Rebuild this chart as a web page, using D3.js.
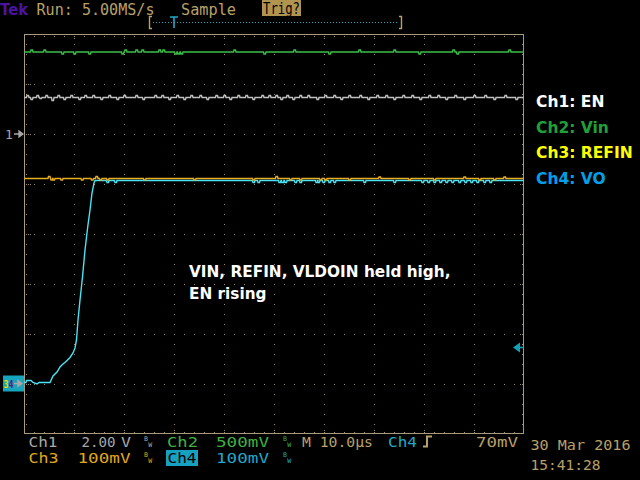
<!DOCTYPE html>
<html><head><meta charset="utf-8">
<script src="https://cdn.jsdelivr.net/npm/d3@7"></script>
<style>html,body{margin:0;padding:0;background:#000;overflow:hidden}</style>
</head><body><svg id="c" width="640" height="480" style="display:block;background:#000"></svg>
<script>
// ---------------- data (time in µs, vertical position in screen divisions) ----------------
const timeDomain = [-30, 70];          // 10.0 µs/div, trigger at t = 0
const divDomain = [-4, 4];             // 8 vertical divisions
const legendLabels = ["Ch1: EN", "Ch2: Vin", "Ch3: REFIN", "Ch4: VO"];
const annotationLines = ["VIN, REFIN, VLDOIN held high,", "EN rising"];
const ch1Ground = 2.0;                 // Ch1 marker position (div)
const ch34Ground = -2.97;              // Ch3 / Ch4 marker position (div)
const trigLevel = 0.7;                 // 70 mV at 100 mV/div above Ch4 ground

const ch1Level = 2.73;                 // EN
const ch2Level = 3.64;                 // Vin
const ch3Level = 1.11;                 // REFIN
const ch4Low = -2.97, ch4High = 1.07;  // VO

const ch1Glitches = [[-29.4,0.04],[-28.6,-0.04],[-27.4,0.04],[-26.8,-0.02],[-25.6,0.04],[-24.4,-0.06],[-23.2,0.04],[-22.0,-0.04],[-20.6,0.04],[-19.0,-0.04],[-17.8,0.04],[-16.2,0.04],[-14.6,-0.04],[-13.0,0.04],[-11.4,-0.04],[-10.0,0.04],[-7.6,0.04],[-6.2,-0.04],[-3.8,0.04],[-2.4,0.04],[-1.0,-0.04],[0.6,0.04],[2.0,-0.04],[3.4,0.04],[5.2,0.04],[6.6,-0.04],[8.4,0.04],[10.0,0.04],[11.2,-0.04],[12.8,0.04],[14.4,0.04],[15.8,-0.04],[17.6,0.04],[19.0,0.04],[20.4,0.04],[21.4,-0.04],[22.6,0.04],[23.8,-0.04],[25.2,0.04],[26.8,0.04],[28.6,-0.04],[30.2,0.04],[32.0,0.04],[33.4,-0.04],[35.0,0.04],[37.2,0.04],[38.8,-0.04],[40.6,0.04],[42.4,0.04],[44.0,-0.04],[45.8,0.04],[47.6,0.04],[49.2,-0.04],[51.0,0.04],[52.8,0.04],[54.4,-0.04],[56.2,0.04],[58.0,-0.04],[60.0,0.04],[62.2,0.04],[64.0,-0.04],[66.2,0.04],[68.4,-0.04]];
const ch2Glitches = [[-28.6,0.04],[-26.0,0.04],[-22.4,-0.04],[-20.0,-0.04],[-17.0,-0.04],[-10.4,-0.04],[-9.8,0.04],[-7.6,0.04],[-6.4,0.04],[-3.0,0.04],[-2.2,0.04],[0.2,-0.04],[0.8,-0.04],[1.4,-0.04],[12.0,0.04],[18.0,-0.04],[24.0,0.04],[31.0,-0.04],[37.0,0.04],[44.0,0.04],[49.0,-0.04],[55.8,0.04],[56.6,-0.04],[67.0,0.04]];
const ch3Glitches = [[-25.1,0.04],[-24.6,-0.03],[-24.2,-0.03],[-22.6,-0.03],[-18.5,-0.03],[-16.5,-0.03],[-15.6,0.04],[-14.8,-0.03],[-13.4,-0.03],[-6.0,-0.03],[4.0,-0.03],[15.8,-0.03],[20.4,0.04],[23.2,-0.03],[25.2,-0.03],[29.2,-0.03],[30.2,-0.03],[35.0,-0.03],[41.0,0.03],[47.0,-0.03],[52.0,-0.03],[58.0,0.03],[61.0,-0.03],[64.0,-0.03],[66.0,0.03]];
const ch4Edge = [[-30,-2.97],[-29.6,-2.97],[-29.5,-2.93],[-29.1,-2.93],[-28.6,-2.93],[-28.2,-2.97],[-27.4,-3.0],[-27.0,-2.97],[-24.8,-2.97],[-24.2,-2.84],[-23.4,-2.76],[-22.8,-2.66],[-22.2,-2.60],[-21.6,-2.55],[-20.8,-2.47],[-20.2,-2.38],[-19.8,-2.28],[-19.5,-2.12],[-19.2,-1.72],[-18.8,-1.32],[-18.3,-0.86],[-17.8,-0.32],[-17.26,0.14],[-16.8,0.48],[-16.4,0.82],[-16.0,1.02],[-15.8,1.07]];
const ch4Glitches = [[-13.4,-0.04],[-11.8,-0.04],[15.8,-0.04],[16.8,-0.04],[21.0,-0.04],[21.6,-0.04],[22.2,-0.04],[24.2,-0.04],[25.2,-0.04],[28.4,-0.04],[28.8,-0.04],[29.8,-0.04],[31.0,-0.04],[32.0,-0.04],[38.0,-0.04],[44.0,-0.04],[49.6,-0.04],[50.8,-0.04],[52.0,-0.04],[53.2,-0.04],[54.4,-0.04],[55.6,-0.04],[57.0,-0.04],[58.2,-0.04],[59.4,-0.04],[60.6,-0.04],[62.0,-0.04],[63.2,-0.04]];

// ---------------- drawing ----------------
const svg = d3.select("#c");
const L = 24, R = 524, T = 34, B = 434;
const x = d3.scaleLinear().domain(timeDomain).range([L, R]);
const y = d3.scaleLinear().domain(divDomain).range([B, T]);

const gridCol = "#9a8a68", frameCol = "#a89a7c";
const tan = "#b8a068", gray = "#a8a8a8", green = "#40b040", orange = "#e0a818", cyan = "#20a8c8";

// grid dots
const dots = [];
const majT = d3.range(timeDomain[0] + 10, timeDomain[1], 10);
const majD = d3.range(divDomain[0] + 1, divDomain[1], 1);
const minT = d3.range(timeDomain[0] + 2, timeDomain[1] - 0.01, 2);
const minD = d3.range(divDomain[0] + 0.2, divDomain[1] - 0.01, 0.2);
majT.forEach(t => minD.forEach(d => dots.push([Math.round(x(t)), Math.round(y(d))])));
majD.forEach(d => minT.forEach(t => dots.push([Math.round(x(t)), Math.round(y(d))])));
minT.forEach(t => { dots.push([Math.round(x(t)), T + 2]); dots.push([Math.round(x(t)), B - 2]); });
minD.forEach(d => { dots.push([L + 2, Math.round(y(d))]); dots.push([R - 2, Math.round(y(d))]); });
majT.forEach(t => { dots.push([Math.round(x(t)), T + 4]); dots.push([Math.round(x(t)), B - 4]); });
majD.forEach(d => { dots.push([L + 4, Math.round(y(d))]); dots.push([L + 6, Math.round(y(d))]); dots.push([R - 4, Math.round(y(d))]); });
svg.append("g").selectAll("rect").data(dots).join("rect")
  .attr("x", d => d[0]).attr("y", d => d[1]).attr("width", 1).attr("height", 1).attr("fill", gridCol);

// frame
svg.append("rect").attr("x", L + 0.5).attr("y", T + 0.5).attr("width", R - L - 1).attr("height", B - T - 1)
  .attr("fill", "none").attr("stroke", frameCol).attr("stroke-width", 1);

// traces
function withGlitches(start, end, level, glitches) {
  const pts = [[start, level]];
  glitches.filter(g => g[0] > start && g[0] < end).forEach(([t, dv]) => {
    pts.push([t - 0.1, level], [t, level + dv], [t + 0.3, level + dv], [t + 0.4, level]);
  });
  pts.push([end, level]);
  return pts;
}
const line = d3.line().x(d => x(d[0])).y(d => y(d[1]));
const traces = [
  {pts: withGlitches(timeDomain[0], timeDomain[1], ch1Level, ch1Glitches), col: "#c0c0c0"},
  {pts: withGlitches(timeDomain[0], timeDomain[1], ch2Level, ch2Glitches), col: "#3cc048"},
  {pts: ch4Edge.concat(withGlitches(ch4Edge[ch4Edge.length - 1][0], timeDomain[1], ch4High, ch4Glitches)), col: "#48e4f4"},
  {pts: withGlitches(timeDomain[0], timeDomain[1], ch3Level, ch3Glitches), col: "#e8b020"}
];
svg.append("g").selectAll("path").data(traces).join("path")
  .attr("d", d => line(d.pts)).attr("fill", "none").attr("stroke", d => d.col).attr("stroke-width", 1.4);

// left markers
const g1 = y(ch1Ground);
svg.append("text").attr("x", 5).attr("y", g1 + 5).attr("fill", gray).attr("font-family", "DejaVu Sans Mono").attr("font-size", 13).text("1");
svg.append("path").attr("d", `M14,${g1}H20M19,${g1 - 3}L23,${g1}L19,${g1 + 3}Z`).attr("stroke", gray).attr("fill", gray).attr("stroke-width", 1.3);
const g3 = y(ch34Ground);
svg.append("rect").attr("x", 3).attr("y", g3 - 7).attr("width", 21).attr("height", 16).attr("fill", "#18a4bc");
const mk = svg.append("text").attr("x", 3.5).attr("y", g3 + 5).attr("font-family", "DejaVu Sans Mono").attr("font-weight", "bold").attr("font-size", 10)
  .attr("textLength", 10).attr("lengthAdjust", "spacingAndGlyphs");
mk.append("tspan").attr("fill", "#f0d020").text("3");
mk.append("tspan").attr("fill", "#50206a").text("4");
svg.append("path").attr("d", `M14,${g3 + 1}H19M18,${g3 - 2}L22,${g3 + 1}L18,${g3 + 4}Z`).attr("stroke", "#a8a8a8").attr("fill", "#a8a8a8").attr("stroke-width", 1.3);

// trigger level arrow (right)
const gt = y(ch34Ground + trigLevel);
svg.append("path").attr("d", `M513,${gt}L520,${gt - 5}V${gt + 5}Z M519,${gt - 0.8}H524V${gt + 0.8}H519Z`).attr("fill", "#10a0b8");

// top status bar
const mono = "DejaVu Sans Mono";
svg.append("text").attr("x", 0).attr("y", 14.5).attr("fill", "#4a14a0").attr("font-family", "DejaVu Sans").attr("font-weight", "bold").attr("font-size", 16).attr("textLength", 28).attr("lengthAdjust", "spacingAndGlyphs").text("Tek");
svg.append("text").attr("x", 36.5).attr("y", 15).attr("fill", tan).attr("font-family", mono).attr("font-size", 15).attr("textLength", 118).attr("lengthAdjust", "spacingAndGlyphs").text("Run: 5.00MS/s");
svg.append("text").attr("x", 181).attr("y", 15).attr("fill", tan).attr("font-family", mono).attr("font-size", 15).attr("textLength", 55).attr("lengthAdjust", "spacingAndGlyphs").text("Sample");
svg.append("rect").attr("x", 262).attr("y", 0).attr("width", 39).attr("height", 16).attr("fill", "#b09450");
svg.append("text").attr("x", 263).attr("y", 14).attr("fill", "#000").attr("font-family", mono).attr("font-size", 15).attr("textLength", 37).attr("lengthAdjust", "spacingAndGlyphs").text("Trig?");
// record bracket + trigger position
svg.append("path").attr("d", "M152,16.5H149.5V28.5H152 M399,16.5H401.5V28.5H399").attr("stroke", tan).attr("fill", "none").attr("stroke-width", 1.4);
svg.append("line").attr("x1", 153).attr("x2", 399).attr("y1", 22.5).attr("y2", 22.5).attr("stroke", "#20a8c8").attr("stroke-dasharray", "1,2");
svg.append("path").attr("d", `M${x(0) - 4},17H${x(0) + 4}M${x(0)},17V28`).attr("stroke", "#20a8c8").attr("stroke-width", 1.6).attr("fill", "none");

// bottom status
function stat(t, xx, yy, col, w, fs) {
  const e = svg.append("text").attr("x", xx).attr("y", yy).attr("fill", col).attr("font-family", mono).attr("font-size", fs || 13.5).text(t);
  if (w) e.attr("textLength", w).attr("lengthAdjust", "spacingAndGlyphs");
  return e;
}
function bw(xx, yy, col) {
  const e = svg.append("text").attr("x", xx).attr("y", yy - 5).attr("fill", col).attr("font-family", mono).attr("font-size", 6.5);
  e.append("tspan").text("B");
  e.append("tspan").attr("dx", 0.3).attr("dy", 6).text("W");
}
const r1 = 446.5, r2 = 462.5;
stat("Ch1", 28.5, r1, gray, 29);
stat("2.00", 81.5, r1, gray, 34);
stat("V", 121, r1, gray, 10);
bw(144, r1 - 1, gray);
stat("Ch2", 167, r1, green, 31);
stat("500mV", 216, r1, green, 53);
bw(283, r1 - 1, green);
stat("M 10.0µs", 302, r1, tan, 71);
stat("Ch4", 388, r1, cyan, 29);
svg.append("path").attr("d", `M423,${r1}H427V${r1 - 10}H432`).attr("stroke", tan).attr("stroke-width", 2).attr("fill", "none");
stat("70mV", 476, r1, tan, 42);
stat("30 Mar 2016", 530.5, 450, tan, 100, 14.5);
stat("Ch3", 28.5, r2, orange, 30);
stat("100mV", 77.5, r2, orange, 53);
bw(144, r2 - 1, orange);
svg.append("rect").attr("x", 166).attr("y", 450).attr("width", 32).attr("height", 16).attr("fill", "#18a0c0");
stat("Ch4", 167.5, r2, "#000", 29);
stat("100mV", 216, r2, cyan, 53);
bw(283, r2 - 1, cyan);
stat("15:41:28", 530.5, 470, tan, 70, 14.5);

// legend
const legendCols = ["#ffffff", "#20a038", "#ffff00", "#00a0e8"];
svg.append("g").selectAll("text").data(legendLabels).join("text")
  .attr("x", 536).attr("y", (d, i) => 107 + i * 25.7)
  .attr("fill", (d, i) => legendCols[i]).attr("font-family", "DejaVu Sans").attr("font-weight", "bold").attr("font-size", 15.5)
  .text(d => d);

// annotation
svg.append("g").selectAll("text").data(annotationLines).join("text")
  .attr("x", 189).attr("y", (d, i) => 277 + i * 21.5)
  .attr("fill", "#ffffff").attr("font-family", "DejaVu Sans").attr("font-weight", "bold").attr("font-size", 15.3)
  .text(d => d);
</script></body></html>
